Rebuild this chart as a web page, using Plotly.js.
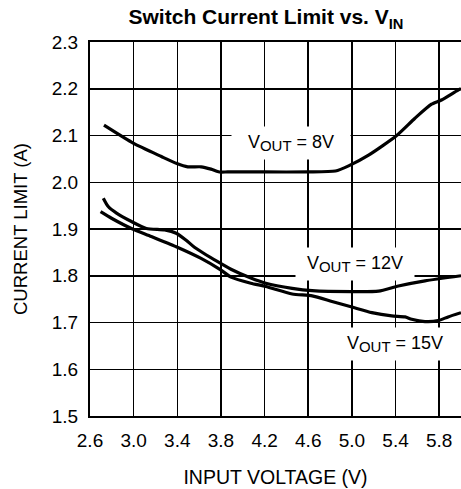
<!DOCTYPE html>
<html>
<head>
<meta charset="utf-8">
<script src="https://cdn.plot.ly/plotly-3.0.1.min.js"></script>
<style>html,body{margin:0;padding:0;background:#fff;}#chart{width:461px;height:489px;}</style>
</head>
<body>
<div id="chart"></div>
<script>
// Input voltage (V) and current limit (A) per output voltage curve
var vin8  = [2.728, 3.0, 3.254, 3.396, 3.496, 3.618, 3.709, 3.785, 3.861, 4.2, 4.6, 4.849, 4.97, 5.153, 5.405, 5.578, 5.73, 5.821, 5.973, 6.0];
var ilim8 = [2.122, 2.083, 2.055, 2.040, 2.033, 2.033, 2.028, 2.022, 2.022, 2.022, 2.022, 2.024, 2.035, 2.058, 2.099, 2.137, 2.167, 2.176, 2.197, 2.200];

var vin12  = [2.722, 2.767, 2.843, 2.98, 3.117, 3.284, 3.39, 3.481, 3.557, 3.77, 3.892, 4.074, 4.211, 4.453, 4.636, 5.0, 5.244, 5.426, 5.67, 6.0];
var ilim12 = [1.966, 1.948, 1.934, 1.916, 1.901, 1.898, 1.891, 1.876, 1.861, 1.830, 1.814, 1.795, 1.784, 1.773, 1.768, 1.766, 1.767, 1.778, 1.789, 1.800];

var vin15  = [2.697, 2.797, 2.98, 3.162, 3.39, 3.618, 3.801, 3.892, 4.074, 4.211, 4.453, 4.636, 4.818, 5.0, 5.183, 5.365, 5.487, 5.548, 5.67, 5.791, 5.882, 6.0];
var ilim15 = [1.937, 1.923, 1.901, 1.884, 1.862, 1.837, 1.812, 1.797, 1.784, 1.777, 1.761, 1.757, 1.745, 1.733, 1.721, 1.714, 1.712, 1.707, 1.702, 1.704, 1.712, 1.721];

var xTicks = [2.6, 3.0, 3.4, 3.8, 4.2, 4.6, 5.0, 5.4, 5.8];
var xTickText = ["2.6", "3.0", "3.4", "3.8", "4.2", "4.6", "5.0", "5.4", "5.8"];
var yTicks = [1.5, 1.6, 1.7, 1.8, 1.9, 2.0, 2.1, 2.2, 2.3];
var yTickText = ["1.5", "1.6", "1.7", "1.8", "1.9", "2.0", "2.1", "2.2", "2.3"];

var labelNames = ["8V", "12V", "15V"];
var labelX = [4.442, 5.025, 5.399];
var labelY = [2.083, 1.825, 1.654];

var FONT = "Liberation Sans, Arial, sans-serif";
var lineStyle = {color: "#000", width: 3.2, shape: "spline", smoothing: 0.6};

var traces = [
  {x: vin8, y: ilim8, mode: "lines", line: lineStyle, hoverinfo: "skip"},
  {x: vin12, y: ilim12, mode: "lines", line: lineStyle, hoverinfo: "skip"},
  {x: vin15, y: ilim15, mode: "lines", line: lineStyle, hoverinfo: "skip"}
];

var annotations = labelNames.map(function (n, i) {
  return {
    x: labelX[i], y: labelY[i], xref: "x", yref: "y",
    text: "V<sub><span style='font-size:15px'>OUT</span></sub> = " + n,
    showarrow: false, bgcolor: "#fff", width: 116, height: 30, borderpad: 1,
    font: {family: FONT, size: 18, color: "#000"}
  };
});

var layout = {
  width: 461, height: 489,
  margin: {l: 90, r: 0, t: 42, b: 73},
  paper_bgcolor: "#fff", plot_bgcolor: "#fff",
  showlegend: false,
  font: {family: FONT, color: "#000"},
  title: {
    text: "<b>Switch Current Limit vs. V<sub>IN</sub></b>",
    font: {family: FONT, size: 21, color: "#000"},
    x: 0.577, xref: "container", xanchor: "center", y: 0.965, yref: "container", yanchor: "middle"
  },
  xaxis: {
    range: [2.6, 6.0], tickvals: xTicks, ticktext: xTickText,
    showgrid: true, gridcolor: "#000", gridwidth: 1.5,
    showline: true, linecolor: "#000", linewidth: 2, mirror: true,
    ticks: "", ticklabelstandoff: 6, zeroline: false,
    tickfont: {family: FONT, size: 19, color: "#000"},
    title: {text: "INPUT VOLTAGE (V)", font: {family: FONT, size: 19.5, color: "#000"}, standoff: 21}
  },
  yaxis: {
    range: [1.5, 2.3], tickvals: yTicks, ticktext: yTickText,
    showgrid: true, gridcolor: "#000", gridwidth: 1.5,
    showline: true, linecolor: "#000", linewidth: 2, mirror: false,
    ticks: "", ticklabelstandoff: 6, zeroline: false,
    tickfont: {family: FONT, size: 19, color: "#000"},
    title: {text: "CURRENT LIMIT (A)", font: {family: FONT, size: 18.5, color: "#000"}, standoff: 19}
  },
  annotations: annotations
};

Plotly.newPlot("chart", traces, layout, {staticPlot: true, displayModeBar: false});
</script>
</body>
</html>
